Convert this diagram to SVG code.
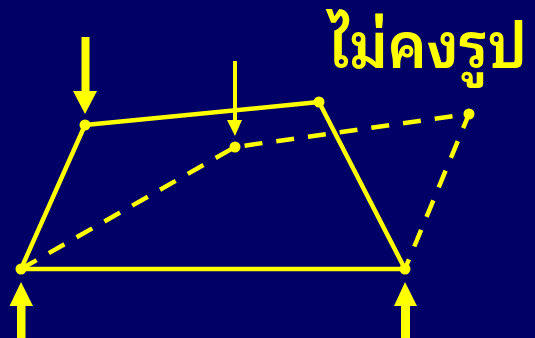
<svg xmlns="http://www.w3.org/2000/svg" width="535" height="338" viewBox="0 0 535 338">
<style>
.solid{fill:none;stroke:#FFFF00;stroke-width:4.5;stroke-linejoin:round}
.dash{fill:none;stroke:#FFFF00;stroke-width:4.5;stroke-dasharray:18 14}
.dot{fill:#FFFF00}
.arrow{fill:#FFFF00}
.title{font-family:"Noto Sans Thai Looped","Noto Sans Thai","Noto Sans","DejaVu Sans",sans-serif;font-weight:600;font-size:62px;fill:#FFFF00}
</style>
<rect width="535" height="338" fill="#000066"/>
<g id="connectors">
<polyline class="solid" points="21,269 85,125 319,102 405,269 21,269"/>
<polyline class="dash" points="21,269 235,147 469,114 405,269"/>
</g>
<g id="node-a"><circle class="dot" cx="85" cy="125" r="5.5"/></g>
<g id="node-b"><circle class="dot" cx="319" cy="102" r="5.5"/></g>
<g id="node-c"><circle class="dot" cx="235" cy="147" r="5.5"/></g>
<g id="node-d"><circle class="dot" cx="469" cy="114" r="5.5"/></g>
<g id="node-e"><circle class="dot" cx="21" cy="269" r="5.5"/></g>
<g id="node-f"><circle class="dot" cx="405" cy="269" r="5.5"/></g>
<g id="loads">
<polygon class="arrow" points="81.5,37 89.5,37 89.5,91 97,91 85,114 73,91 81.5,91"/>
<polygon class="arrow" points="233,61 237,61 237,120 242,120 235,136 227,120 233,120"/>
<polygon class="arrow" points="17,338 25.5,338 25.5,306 33,306 21,282 9.5,306 17,306"/>
<polygon class="arrow" points="401,338 410,338 410,306 417,306 405,282 394,306 401,306"/>
</g>
<text class="title" x="328" y="68" textLength="199" lengthAdjust="spacingAndGlyphs">ไม่คงรูป</text>
</svg>
